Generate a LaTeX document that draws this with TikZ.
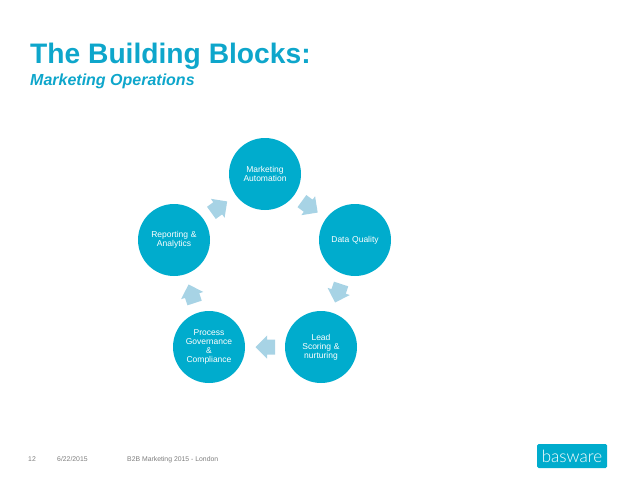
\documentclass[tikz,border=0pt]{standalone}
\usepackage{fontspec}
\setmainfont{Liberation Sans}
\newfontfamily\logofont{Lato Light}
\usetikzlibrary{calc, shapes.arrows}
\definecolor{bwblue}{RGB}{0,172,205}
\definecolor{bwtitle}{RGB}{14,166,203}
\definecolor{bwarrow}{RGB}{167,211,229}
\definecolor{bwgrey}{RGB}{125,125,125}
\tikzset{
  block/.style={circle,fill=bwblue,minimum size=72pt,inner sep=0pt,text=white,
    align=center,font=\fontsize{8.5}{9}\selectfont,text width=58pt},
  flow/.style={single arrow,fill=bwarrow,minimum height=19.5pt,minimum width=23pt,
    inner xsep=0pt,inner ysep=7.3pt,single arrow head extend=4.2pt,
    single arrow head indent=0pt,xshift=-4pt},
  foot/.style={anchor=base west,text=bwgrey,font=\fontsize{6.85}{7}\selectfont,inner sep=0pt}
}
\begin{document}
\begin{tikzpicture}[x=1pt,y=-1pt]
  \useasboundingbox (0,0) rectangle (638,479);
  % Title
  \node[anchor=base west,inner sep=0pt,text=bwtitle,font=\fontsize{28.2}{30}\selectfont\bfseries] (title) at(30,63.5){The Building Blocks:};
  \node[anchor=base west,inner sep=0pt,text=bwtitle,font=\fontsize{16}{18}\selectfont\bfseries\itshape] (subtitle) at(30,85.5){Marketing Operations};
  % Circles
  \node[block] (automation) at(265,174){Marketing\\Automation};
  \node[block] (quality) at(355,240){Data Quality};
  \node[block] (scoring) at(321,347){Lead\\Scoring \&\\nurturing};
  \node[block] (governance) at(209,347){Process\\Governance\\\&\\Compliance};
  \node[block] (reporting) at(174,240){Reporting \&\\Analytics};
  % Arrows between circles
  \node[rotate=-36,flow] (arrowa) at($(automation)!0.5!(quality)$){};
  \node[rotate=-108,flow] (arrowb) at($(quality)!0.5!(scoring)$){};
  \node[rotate=180,flow] (arrowc) at($(scoring)!0.5!(governance)$){};
  \node[rotate=108,flow] (arrowd) at($(governance)!0.5!(reporting)$){};
  \node[rotate=36,flow] (arrowe) at($(reporting)!0.5!(automation)$){};
  % Footer
  \node[foot] (page) at(28,461){12};
  \node[foot] (date) at(57,461){6/22/2015};
  \node[foot] (event) at(127,461){B2B Marketing 2015 - London};
  \node[fill=bwblue,rounded corners=1.5pt,minimum width=70pt,minimum height=24pt,inner sep=0pt,
    text=white,font=\logofont\fontsize{17}{18}\selectfont] (logo) at(572,456){basware};
\end{tikzpicture}
\end{document}
